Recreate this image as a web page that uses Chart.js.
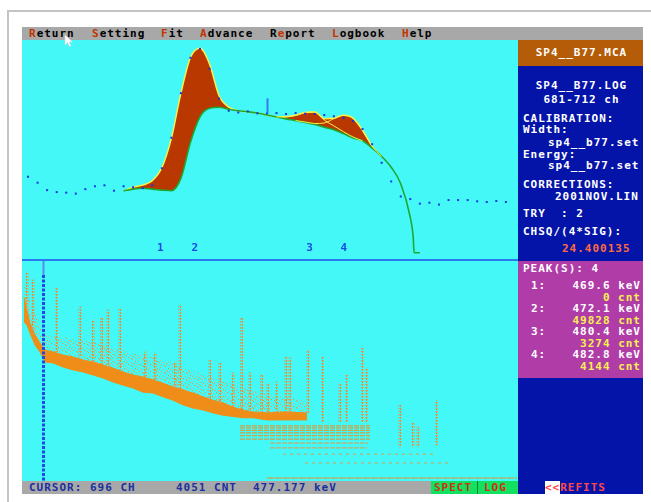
<!DOCTYPE html>
<html>
<head>
<meta charset="utf-8">
<script src="https://cdn.jsdelivr.net/npm/chart.js@4.4.1/dist/chart.umd.min.js"></script>
<style>
body{margin:0;width:651px;height:502px;background:#fff;position:relative;overflow:hidden;
  font-family:"DejaVu Sans Mono",monospace;font-weight:bold;font-size:11px;letter-spacing:1px}
.a{position:absolute}
.t{position:absolute;line-height:13px;height:13px;white-space:pre}
.w{color:#fff}
.hk{color:#c03400}
</style>
</head>
<body>
<!-- outer frame -->
<div class="a" style="left:7px;top:10px;width:644px;height:2px;background:#c4c4c4"></div>
<div class="a" style="left:7px;top:10px;width:2px;height:492px;background:#c4c4c4"></div>

<!-- menu bar -->
<div class="a" style="left:22px;top:27px;width:621px;height:13px;background:#a8a8a8"></div>
<div class="t" style="left:29px;top:27px"><span class="hk">R</span>eturn</div>
<div class="t" style="left:92px;top:27px"><span class="hk">S</span>etting</div>
<div class="t" style="left:161px;top:27px"><span class="hk">F</span>it</div>
<div class="t" style="left:200px;top:27px"><span class="hk">A</span>dvance</div>
<div class="t" style="left:270px;top:27px">R<span class="hk">e</span>port</div>
<div class="t" style="left:332px;top:27px"><span class="hk">L</span>ogbook</div>
<div class="t" style="left:402px;top:27px"><span class="hk">H</span>elp</div>

<!-- plots -->
<div class="a" style="left:22px;top:40px;width:496px;height:441px;background:#44f8f8"></div>
<canvas id="fit" class="a" width="496" height="218" style="left:22px;top:40px"></canvas>
<div class="a" style="left:22px;top:259px;width:496px;height:2px;background:#2878f0"></div>
<canvas id="spec" class="a" width="496" height="220" style="left:22px;top:261px"></canvas>

<!-- status bar -->
<div class="a" style="left:22px;top:481px;width:496px;height:13px;background:#a8a8a8"></div>
<div class="t" style="left:29px;top:481px;color:#1830a0">CURSOR: 696 CH</div>
<div class="t" style="left:176px;top:481px;color:#1830a0">4051 CNT</div>
<div class="t" style="left:253px;top:481px;color:#1830a0">477.177 keV</div>
<div class="a" style="left:431px;top:481px;width:87px;height:13px;background:#14e060"></div>
<div class="a" style="left:477px;top:481px;width:1px;height:13px;background:#108030"></div>
<div class="t" style="left:434px;top:481px;color:#d03010">SPECT</div>
<div class="t" style="left:484px;top:481px;color:#d03010">LOG</div>

<!-- right panel -->
<div class="a" style="left:518px;top:40px;width:125px;height:454px;background:#0414a8"></div>
<div class="a" style="left:518px;top:40px;width:125px;height:26px;background:#b45c08"></div>
<div class="t w" style="left:519px;width:125px;text-align:center;top:46px">SP4__B77.MCA</div>
<div class="t w" style="left:519px;width:125px;text-align:center;top:79px">SP4__B77.LOG</div>
<div class="t w" style="left:519px;width:125px;text-align:center;top:93px">681-712 ch</div>
<div class="t w" style="left:523px;top:112px">CALIBRATION:</div>
<div class="t w" style="left:523px;top:123px">Width:</div>
<div class="t w" style="left:548px;top:136px">sp4__b77.set</div>
<div class="t w" style="left:523px;top:148px">Energy:</div>
<div class="t w" style="left:548px;top:159px">sp4__b77.set</div>
<div class="t w" style="left:523px;top:178px">CORRECTIONS:</div>
<div class="t w" style="left:555px;top:190px">2001NOV.LIN</div>
<div class="t w" style="left:523px;top:207px">TRY  : 2</div>
<div class="t w" style="left:523px;top:225px">CHSQ/(4*SIG):</div>
<div class="t" style="left:562px;top:242px;color:#ff6a40">24.400135</div>

<div id="peaks" class="a" style="left:518px;top:261px;width:125px;height:117px;background:#b03ca8"></div>

<div class="a" style="left:545px;top:481px;width:15px;height:13px;background:#fff"></div>
<div class="t" style="left:545px;top:481px;color:#ff4848">&lt;&lt;REFITS</div>

<!-- mouse pointer -->
<svg class="a" style="left:64px;top:34px" width="12" height="14">
  <polygon points="1,1 1,11 3.5,8.5 5.5,12.5 7,11.8 5,8 8.5,8" fill="#fff" stroke="#d8d8d8" stroke-width="0.6"/>
</svg>

<script>
// fit region, channel by channel (counts)
var dotsCh = [671,672,673,674,675,676,677,678,679,680,681,682,683,684,685,686,687,688,689,690,
  691,692,693,694,695,696,697,698,699,700,701,702,703,704,705,706,707,708,709,710,
  711,712,713,714,715,716,717,718,719,720,721];
var dotsCnt = [2228,2054,1840,1784,1768,1740,1868,1951,1979,1823,1951,1923,1895,1979,2470,3349,4634,5653,5911,5336,
  4476,4126,4079,4107,4052,4051,4060,4032,4060,4043,4032,4004,3968,3921,3830,3599,3164,2628,2090,1657,
  1582,1451,1479,1424,1554,1554,1554,1518,1499,1526,1499];

// background under the fit
var bgCh = [681,682,683,684,685,686,687,688,689,690,691,692,693,694,695,696,697,698,699,700,
  701,702,703,704,705,706,707,708,709,710,711,711.3,711.4,712];
var bgCnt = [1818,1868,1895,1868,1840,1823,2178,3219,3954,4199,4226,4171,4126,4101,4060,4004,3949,3893,3843,3788,
  3732,3649,3580,3469,3344,3261,3053,2811,2498,2026,1055,500,36,36];

// total fit (peaks + background)
var fitCh = [681,682,683,684,685,686,687,688,689,690,691,692,693,694,695,696,697,698,699,700,
  701,702,703,704,705,706,707,708];
var fitCnt = [1818,1923,1984,2109,2484,3330,4634,5661,5925,5467,4551,4232,4126,4101,4060,4004,3949,3954,3996,4079,
  4093,3899,3913,3996,3913,3566,3108,2811];

var p3Ch = [697,698,699,700,701,702,703,704,705,706];
var p3Cnt = [3949,3954,3996,4079,4088,3857,3691,3524,3372,3261];
var p4Ch = [699,700,701,702,703,704,705,706,707,708];
var p4Cnt = [3843,3802,3760,3774,3899,3996,3913,3566,3108,2811];

var peakCh = [684.9,688.5,700.5,704.1];
var peakLbl = ['1','2','3','4'];
var peakKeV = ['469.6','472.1','480.4','482.8'];
var peakArea = [0,49828,3274,4144];

var cursorCh = 696;
var cursorCnt = 4051;

// full spectrum (16384 ch, log counts)
var bandCh = [66,165,264,429,595,760,1024,1354,1685,2015,2345,2675,3006,3336,3666,3997,4327,4657,4988,5318,
  5648,5978,6309,6639,6969,7300,7630,8092,8687,9414];
var bandHi = [4169,2291,1259,724,501,363,331,288,263,229,209,182,158,132,115,105,91,79,66,58,
  50,42,36,32,26,23,21,20,21,20];
var bandLo = [1318,1148,794,457,331,209,200,166,145,132,115,100,83,72,63,52,50,42,36,29,
  25,23,20,18,17,16,16,14.5,14.5,14.5];
var haloHi = [7244,5754,3631,2291,1148,724,661,661,603,575,525,457,398,363,316,288,263,229,200,158,
  138,115,100,91,76,63,55,46,40,36];

var spikeCh = [165,363,1146,1916,2345,2632,2841,3237,4063,4393,5054,5219,6210,6540,6969,7257,7531,7918,8125,8413,
  8720,8852,9447,9932,10504,10725,11240,11385,12485,12915,13080,13697];
var spikeLo = [2291,724,331,263,209,182,166,145,105,91,66,58,36,32,26,23,21,20,20,20,
  20,20,20,13,13,13,13,13,4.2,4.2,4.2,4.6];
var spikeHi = [13183,9120,6310,2630,1445,1585,2291,2512,331,316,209,2884,229,200,126,1585,126,115,79,83,
  263,251,363,263,79,115,398,158,29,12.6,10.5,36];

// low count levels show as rows
var rowCnt = [1,2,3,4,5,6,7,8,9,10,11];
var rowFrom = [8092,9347,8621,8191,8191,7201,7201,7201,7201,7201,7201];
var rowTo = [16350,14137,13707,11395,11428,11494,11494,11494,11494,11494,11494];

function xy(xs, ys) {
    return xs.map(function (x, i) { return {x: x, y: ys[i]}; });
}

// peak list in the side panel
function addText(txt, css) {
    var d = document.createElement('div');
    d.className = 't';
    d.style.cssText = css;
    d.textContent = txt;
    document.body.appendChild(d);
}
addText('PEAK(S): ' + peakCh.length, 'left:523px;top:262px;color:#fff');
for (var i = 0; i < peakKeV.length; i++) {
    var rowTop = 279 + i * 23;
    addText((i + 1) + ':', 'left:531px;top:' + rowTop + 'px;color:#fff');
    addText(peakKeV[i] + ' keV', 'right:10px;top:' + rowTop + 'px;color:#fff');
    addText(peakArea[i] + ' cnt', 'right:10px;top:' + (rowTop + 12) + 'px;color:#f8f050');
}

function makePattern(w, h, pix) {
    var c = document.createElement('canvas');
    c.width = w; c.height = h;
    var g = c.getContext('2d');
    pix.forEach(function (p) {
        g.fillStyle = p[2];
        g.fillRect(p[0], p[1], 1, 1);
    });
    return g.createPattern(c, 'repeat');
}
// speckle texture above the band, dotted texture for the spikes
var haloPat = makePattern(11, 7, [[0,0,'#e89a40'],[6,1,'#d8b080'],[3,2,'#f09020'],[9,3,'#d8a868'],[1,4,'#e0a050'],
    [7,5,'#f09020'],[4,6,'#d8b080'],[10,6,'#e89a40'],[5,3,'#e0a050'],[2,5,'#d8a868']]);
var spikePat = makePattern(2, 3, [[0,0,'#e0963a'],[1,0,'#d8a060'],[0,1,'#f08c20']]);

var common = {
    responsive: false,
    animation: false,
    events: [],
    layout: {padding: 0},
    plugins: {legend: {display: false}, tooltip: {enabled: false}, filler: {drawTime: 'beforeDatasetsDraw'}}
};

// upper plot: peak labels and cursor tick
var fitMarks = {
    id: 'fitMarks',
    afterDatasetsDraw: function (chart) {
        var ctx = chart.ctx, sx = chart.scales.x, sy = chart.scales.y;
        ctx.save();
        ctx.font = 'bold 11px "DejaVu Sans Mono"';
        ctx.fillStyle = '#1848e8';
        ctx.textAlign = 'center';
        ctx.textBaseline = 'middle';
        peakCh.forEach(function (c, i) {
            ctx.fillText(peakLbl[i], sx.getPixelForValue(c), chart.chartArea.bottom - 6);
        });
        var cx = Math.round(sx.getPixelForValue(cursorCh)) + 0.5;
        var cy = sy.getPixelForValue(cursorCnt);
        ctx.strokeStyle = '#3a78f0';
        ctx.lineWidth = 2;
        ctx.beginPath();
        ctx.moveTo(cx, cy);
        ctx.lineTo(cx, cy - 15);
        ctx.stroke();
        ctx.restore();
    }
};

new Chart(document.getElementById('fit'), {
    type: 'line',
    data: {
        datasets: [
            {data: xy(dotsCh, dotsCnt), showLine: false, pointStyle: 'rect', pointRadius: 1.4,
                pointBackgroundColor: '#1830e8', pointBorderWidth: 0},
            {data: xy(p3Ch, p3Cnt), borderColor: '#f8f048', borderWidth: 1, pointRadius: 0, cubicInterpolationMode: 'monotone'},
            {data: xy(p4Ch, p4Cnt), borderColor: '#f8f048', borderWidth: 1, pointRadius: 0, cubicInterpolationMode: 'monotone'},
            {data: xy(bgCh, bgCnt), borderColor: '#1ea830', borderWidth: 1.6, pointRadius: 0, cubicInterpolationMode: 'monotone'},
            {data: xy(fitCh, fitCnt), borderColor: '#f8f048', borderWidth: 1.5, pointRadius: 0,
                cubicInterpolationMode: 'monotone', fill: 3, backgroundColor: '#b83800'}
        ]
    },
    options: Object.assign({}, common, {
        scales: {
            x: {type: 'linear', min: 670.79, max: 721.85, display: false},
            y: {type: 'linear', min: 0, max: 6050, display: false}
        }
    }),
    plugins: [fitMarks]
});

// lower plot: dashed cursor
var specCursor = {
    id: 'specCursor',
    afterDatasetsDraw: function (chart) {
        var ctx = chart.ctx, a = chart.chartArea;
        var cx = Math.round(chart.scales.x.getPixelForValue(cursorCh)) + 0.5;
        ctx.save();
        ctx.strokeStyle = '#5a8cf0';
        ctx.lineWidth = 2;
        ctx.beginPath();
        ctx.moveTo(cx, a.top);
        ctx.lineTo(cx, a.top + 14);
        ctx.stroke();
        ctx.strokeStyle = '#2448e8';
        ctx.lineWidth = 3;
        ctx.setLineDash([3, 1.5]);
        ctx.beginPath();
        ctx.moveTo(cx, a.top + 14);
        ctx.lineTo(cx, a.bottom);
        ctx.stroke();
        ctx.restore();
    }
};

var specSets = [{
    type: 'bar',
    data: spikeCh.map(function (c, i) { return {x: c, y: [spikeLo[i], spikeHi[i]]}; }),
    backgroundColor: spikePat, borderWidth: 0, barThickness: 2
}];
rowCnt.forEach(function (n, i) {
    specSets.push({
        data: [{x: rowFrom[i], y: n}, {x: rowTo[i], y: n}],
        borderColor: (i >= 5 || i === 0) ? '#f08c18' : '#e09a48',
        borderWidth: 1, pointRadius: 0,
        borderDash: i === 0 ? [7, 1] : (i < 3 ? [3, 4] : [5, 1])
    });
});
specSets.push({data: xy(bandCh, haloHi), borderWidth: 0, pointRadius: 0, fill: '+1', backgroundColor: haloPat});
specSets.push({data: xy(bandCh, bandHi), borderColor: '#f08c18', borderWidth: 1, pointRadius: 0, fill: '+1', backgroundColor: '#f08c18'});
specSets.push({data: xy(bandCh, bandLo), borderColor: '#f08c18', borderWidth: 1, pointRadius: 0});

new Chart(document.getElementById('spec'), {
    type: 'line',
    data: {datasets: specSets},
    options: Object.assign({}, common, {
        scales: {
            x: {type: 'linear', min: 0, max: 16384, offset: false, display: false},
            y: {type: 'logarithmic', min: 0.871, max: 21878, display: false}
        }
    }),
    plugins: [specCursor]
});
</script>
</body>
</html>
